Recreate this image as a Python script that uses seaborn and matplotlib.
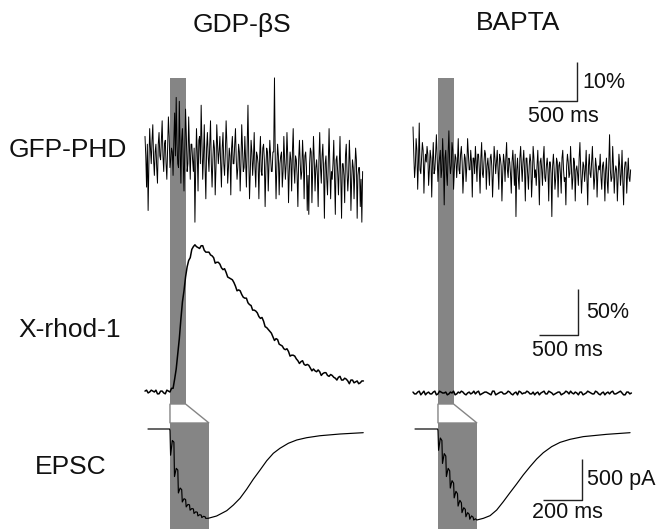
import numpy as np
import matplotlib
matplotlib.use("Agg")
import matplotlib.pyplot as plt
import seaborn as sns
from matplotlib.patches import Polygon

sns.set_style("white")
plt.rcParams['font.family'] = ['Liberation Sans', 'DejaVu Sans']

# ---------------- data ----------------
conditions = ["GDP-\u03b2S", "BAPTA"]
row_labels = ["GFP-PHD", "X-rhod-1", "EPSC"]

stim_fluor = (320, 520)      # ms, stimulus in fluorescence time base
stim_epsc = (0, 200)         # ms, stimulus in EPSC time base

gfp_dt = 20  # ms between samples of each GFP list; "mid" lists sit half-way
gfp_left = [4, -9, -15, 6, -3, 7, -6, 2, -8, 5,
            -2, 8, -5, 3, -7, 9, -4, 1, -6, 10,
            14, -3, 13, -8, 6, -10, 11, -5, 9, -7,
            2, -5, -18, 6, -10, 4, 12, -7, 7, -12,
            5, -5, 8, -9, 3, -11, 7, -3, 4, -9,
            5, -6, 8, -8, 1, -11, 4, -3, 6, -7,
            2, -10, 7, -5, 4, -9, 12, -12, 3, -6,
            5, -9, -1, -12, 4, -6, 2, -14, 1, -10,
            3, -5, 0, 19, -12, 2, -11, -1, -9, 4,
            -7, 5, -13, 0, -10, 6, -8, -2, -14, 3,
            -7, 3, -12, 0, -15, -16, 1, -13, 4, -10,
            -2, -14, 5, -8, 2, -17, -1, -11, 6, -12,
            -7, 3, -16, -1, -11, 4, -17, -3, -13, 2,
            -10, 3, -15, -2, -12, 1, -17, -4, -14, -18]
gfp_left_mid = [-1, 2, -3, 1, 3, -2, 0, -4, 2, -1,
                3, -1, 2, -3, 1, 4, -2, 0, 3, -1,
                2, -4, 1, 3, -2, 0, 4, -3, 1, 2,
                -2, 1, -4, 0, 3, -3, 2, -1, -4, 1,
                -1, 2, -3, -2, 1, -4, 2, 0, -3, 1,
                -3, 0, 2, -4, -1, 1, -3, 2, -2, -4,
                0, -3, 1, -4, -2, 1, -1, -5, 0, -2,
                -4, 0, -3, -1, -5, 1, -2, -4, 0, -3,
                -1, -5, 0, -2, -4, -1, -3, 0, -5, -2,
                -3, -1, -5, -2, 0, -4, -1, -6, -2, -3,
                -5, -2, -1, -4, -6, -3, 0, -5, -2, -4,
                -6, -2, -4, -1, -5, -3, -7, -2, -4, -5,
                -3, -6, -2, -5, -4, -7, -3, -6, -1, -5,
                -6, -3, -7, -4, -5, -2, -6, -4, -7, -5]
gfp_right = [9, -4, 6, -7, 10, -3, 5, -8, 2, 4,
             -6, 3, -9, 5, -2, 7, -5, 1, -4, 6,
             -11, 3, -6, 8, -3, 5, -7, 2, -4, 6,
             -3, 4, -8, 2, -5, 6, -2, 3, -9, 1,
             4, -5, 2, -8, 5, -4, 3, -7, 1, -6,
             2, -9, 4, -3, 3, -7, 1, -10, 2, -5,
             5, -4, 0, -8, 3, -6, -14, 1, -7, 4,
             -5, 3, -10, 1, -7, 2, -9, 4, -4, -6,
             3, -11, 1, -6, 4, -5, 1, -10, 0, -14,
             2, -7, 1, -9, 0, -8, 3, -5, -11, 2,
             -4, 4, -7, 1, -10, -1, -6, 5, -8, 0,
             -5, 3, -11, 2, -4, 4, -7, 1, -9, -1,
             2, -7, 0, -10, 1, -8, 7, -5, 4, -8,
             -1, -10, 2, -6, 3, -11, 0, -8, 1, -5]
gfp_right_mid = [2, -1, 3, 0, -2, 1, 3, -1, 0, 2,
                 -2, 1, 0, -3, 2, 1, -1, 3, -2, 0,
                 1, -3, 2, 0, -1, 3, -2, 1, 0, -2,
                 2, 0, -3, 1, -1, 2, -2, 0, 1, -3,
                 0, 2, -2, 1, -3, 0, 2, -1, -2, 1,
                 -1, -3, 1, 0, -2, 2, -1, -3, 0, 1,
                 -2, 1, -3, 0, -1, 2, -2, -4, 1, -1,
                 0, -2, 1, -3, -1, 0, -4, 1, -2, -1,
                 -3, 0, -2, 1, -4, -1, -2, 0, -3, -1,
                 -2, -4, 0, -1, -3, 1, -2, -4, -1, 0,
                 -3, -1, -4, 0, -2, -3, 1, -2, -4, -1,
                 -2, -4, -1, -3, 0, -2, -4, -1, -3, -2,
                 -4, -1, -3, -2, -5, 0, -2, -4, -1, -3,
                 -2, -4, -1, -3, -5, -2, 0, -3, -4, -2]

xr_dt = 40  # ms between samples of each X-rhod-1 list; "mid" lists sit half-way
xrhod_left = [1, -1, 2, 0, -2, 1, -1, 2, 0, 4,
              25, 58, 98, 125, 143, 155, 160, 157, 159, 154,
              152, 149, 146, 141, 139, 133, 130, 124, 122, 115,
              111, 106, 102, 97, 94, 89, 86, 80, 77, 70,
              66, 60, 58, 52, 50, 46, 44, 40, 39, 34,
              33, 30, 30, 26, 25, 22, 22, 20, 21, 17,
              18, 15, 16, 13, 15, 12, 13, 10, 12, 10, 12]
xrhod_left_mid = [2, 0, 1, 2, -2, 1, -2, 1, 4, 14,
                  42, 79, 110, 136, 146, 158, 158, 156, 159, 152,
                  152, 148, 140, 141, 135, 134, 125, 123, 119, 110,
                  110, 103, 102, 95, 89, 88, 82, 81, 71, 68,
                  64, 56, 57, 51, 47, 47, 39, 40, 36, 31,
                  34, 29, 29, 23, 23, 24, 18, 21, 18, 19,
                  16, 13, 17, 13, 14, 9, 13, 11, 9, 12]
xrhod_right = [1, -1, 2, 0, -2, 1, -1, 2, -1, 1,
               0, -2, 1, 2, -1, 0, 1, -2, 1, 0,
               -1, 2, -1, 1, 0, -2, 2, -1, 1, -1,
               0, 1, -2, 1, 2, -1, 0, 1, -1, -2,
               1, 0, 2, -1, 1, -2, 0, 1, -1, 2,
               -1, 0, 1, -2, 1, -1, 2, 0, -1, 1,
               -2, 1, 0, -1, 2, -1, 1, 0, -2, 1, 0]
xrhod_right_mid = [-1, 1, -2, 2, 0, -1, 1, -2, 2, 0,
                   1, -1, 0, -2, 1, 2, -1, 0, -1, 2,
                   1, -2, 0, 1, -1, 2, -2, 0, 1, -1,
                   2, -1, 0, -2, 1, 0, 2, -1, 1, 0,
                   -2, 1, -1, 2, 0, -1, 1, -2, 0, 1,
                   2, -1, 0, 1, -2, 0, 1, -1, 2, -1,
                   0, -2, 1, 1, -1, 0, 2, -2, 1, -1]

epsc_left_t = [-113, -2, 0, 3, 12, 20, 23, 32, 40, 43, 52, 60, 63, 72, 80, 83,
               92, 100, 103, 112, 120, 123, 132, 140, 143, 152, 160, 163, 172,
               180, 183, 196, 239, 291, 325, 359, 393, 427, 462, 496, 530, 564,
               607, 650, 701, 769, 872, 991]
epsc_left_i = [0, 0, -20, -320, -140, -160, -580, -480, -500, -780, -720, -740,
               -890, -850, -860, -950, -920, -925, -990, -970, -975, -1030,
               -1010, -1015, -1060, -1045, -1050, -1080, -1065, -1070, -1090,
               -1089, -1061, -996, -927, -845, -735, -613, -500, -387, -296,
               -235, -174, -134, -106, -82, -61, -45]
epsc_right_t = [-118, -2, 0, 3, 12, 20, 23, 32, 40, 43, 52, 60, 63, 72, 80, 83,
                92, 100, 103, 112, 120, 123, 132, 140, 143, 152, 160, 163, 172,
                180, 183, 192, 199, 233, 267, 301, 335, 369, 403, 437, 472, 506,
                540, 583, 626, 677, 745, 865, 985]
epsc_right_i = [0, 0, -20, -260, -110, -140, -420, -300, -330, -580, -480, -510,
                -720, -630, -660, -840, -760, -790, -940, -870, -900, -1020,
                -960, -980, -1070, -1020, -1040, -1100, -1060, -1075, -1110,
                -1095, -1110, -1089, -1057, -988, -886, -777, -671, -561, -459,
                -366, -289, -215, -163, -126, -93, -65, -45]

# scale bars (size in data units)
bar_fluor_ms = 500
bar_gfp_pct = 10
bar_xr_pct = 50
bar_epsc_ms = 200
bar_epsc_pa = 500

# ---------------- layout ----------------
W, H = 661, 529
fig = plt.figure(figsize=(W / 100, H / 100), dpi=100)
GREY = '#858585'

sx_f = 39 / 500.0     # px per ms (fluorescence)
sy_g = 3.9            # px per % (GFP)
sy_x = 0.92           # px per % (X-rhod)
sx_e = 39 / 200.0     # px per ms (EPSC)
sy_e = 41 / 500.0     # px per pA (EPSC)


def add_ax(x0px, y0px, xlim, ylim, sx, sy):
    left = x0px + xlim[0] * sx
    width = (xlim[1] - xlim[0]) * sx
    top = y0px - ylim[1] * sy
    height = (ylim[1] - ylim[0]) * sy
    ax = fig.add_axes([left / W, 1 - (top + height) / H, width / W, height / H])
    ax.set_xlim(xlim)
    ax.set_ylim(ylim)
    ax.set_axis_off()
    ax.patch.set_alpha(0)
    return ax


def txt(xpx, ypx, s, size, ha='left', va='center'):
    fig.text(xpx / W, 1 - ypx / H, s, fontsize=size, ha=ha, va=va, color='#111111')


def merge(main, mid, dt):
    """Interleave two sample lists taken half a sampling step apart."""
    t = np.concatenate([np.arange(len(main)) * dt, np.arange(len(mid)) * dt + dt / 2])
    v = np.concatenate([np.asarray(main, float), np.asarray(mid, float)])
    o = np.argsort(t)
    return t[o], v[o]


def trace(ax, t, v, lw=0.8):
    sns.lineplot(x=np.asarray(t, float), y=np.asarray(v, float), ax=ax,
                 color='black', linewidth=lw, estimator=None, sort=False)


cols = [
    dict(t0=145, gfp_y0=152, xr_y0=392, e_t0=170,
         gfp=merge(gfp_left, gfp_left_mid, gfp_dt),
         xr=merge(xrhod_left, xrhod_left_mid, xr_dt),
         et=epsc_left_t, ei=epsc_left_i),
    dict(t0=413, gfp_y0=162, xr_y0=393, e_t0=438,
         gfp=merge(gfp_right, gfp_right_mid, gfp_dt),
         xr=merge(xrhod_right, xrhod_right_mid, xr_dt),
         et=epsc_right_t, ei=epsc_right_i),
]

xlim_f = (-60, 2860)
bar_top, bar_bot = 78, 404
e_top = 423
e_ylim = (-1220, (429 - e_top) / sy_e)
xlim_e = (-160, 1030)

axes_store = []
for c in cols:
    bg = add_ax(c['t0'], bar_bot, xlim_f, (0, bar_bot - bar_top), sx_f, 1.0)
    bg.axvspan(*stim_fluor, color=GREY, lw=0, zorder=0)
    ag = add_ax(c['t0'], c['gfp_y0'], xlim_f, (-22, 28), sx_f, sy_g)
    trace(ag, *c['gfp'], lw=0.7)
    axr = add_ax(c['t0'], c['xr_y0'], xlim_f, (-12, 175), sx_f, sy_x)
    trace(axr, *c['xr'], lw=1.1)
    ae = add_ax(c['e_t0'], 429, xlim_e, e_ylim, sx_e, sy_e)
    ae.axvspan(*stim_epsc, color=GREY, lw=0, zorder=0)
    trace(ae, c['et'], c['ei'], lw=0.85)
    inv = fig.transFigure.inverted()
    p1 = inv.transform(bg.transData.transform((stim_fluor[0], 0)))
    p2 = inv.transform(bg.transData.transform((stim_fluor[1], 0)))
    p3 = inv.transform(ae.transData.transform((stim_epsc[1], e_ylim[1])))
    p4 = inv.transform(ae.transData.transform((stim_epsc[0], e_ylim[1])))
    fig.add_artist(Polygon([p1, p2, p3, p4], closed=True, transform=fig.transFigure,
                           facecolor='white', edgecolor=GREY, lw=1.0))
    axes_store.append((ag, axr, ae))

SB = dict(color='#222222', lw=1.0, solid_capstyle='butt')
ag, axr, ae = axes_store[1]
cx, cy = 2103, 15.6
ag.plot([cx - bar_fluor_ms, cx, cx], [cy, cy, cy + bar_gfp_pct], **SB)
cx, cy = 2115, 63
axr.plot([cx - bar_fluor_ms, cx, cx], [cy, cy, cy + bar_xr_pct], **SB)
cx, cy = 738, -866
ae.plot([cx - bar_epsc_ms, cx, cx], [cy, cy, cy + bar_epsc_pa], **SB)

txt(582, 82, f"{bar_gfp_pct}%", 15.5)
txt(563, 117, f"{bar_fluor_ms} ms", 15.5, ha='center')
txt(586, 313, f"{bar_xr_pct}%", 15.5)
txt(567, 350, f"{bar_fluor_ms} ms", 15.5, ha='center')
txt(587, 480, f"{bar_epsc_pa} pA", 15.5)
txt(567, 513, f"{bar_epsc_ms} ms", 15.5, ha='center')

txt(242, 25, conditions[0], 19, ha='center')
txt(518, 23, conditions[1], 19, ha='center')
txt(9, 150, row_labels[0], 19)
txt(18, 330, row_labels[1], 19)
txt(35, 467, row_labels[2], 19)

fig.savefig("out.png", dpi=100)
